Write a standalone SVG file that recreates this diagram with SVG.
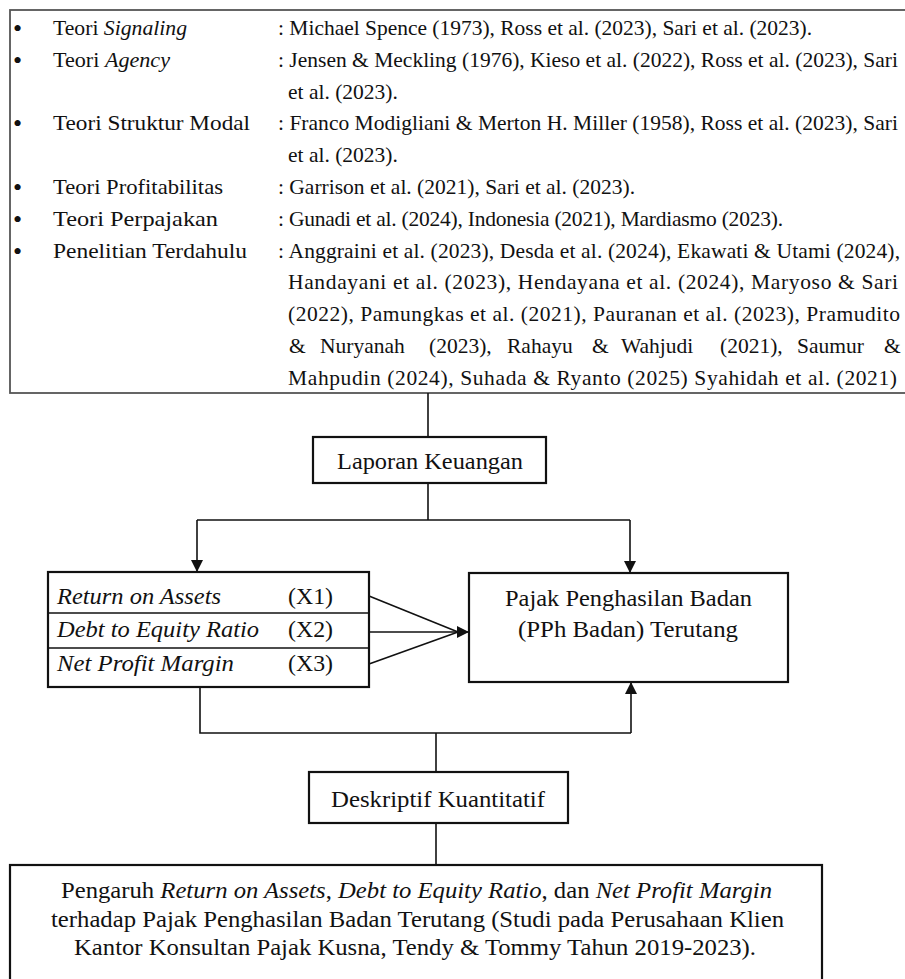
<svg xmlns="http://www.w3.org/2000/svg" width="905" height="979" viewBox="0 0 905 979">
<defs>
<style>
text{font-family:"Liberation Serif","Times New Roman",serif;fill:#111;}
.t{font-size:21.5px;}
.b{font-size:26px;}
.d{font-size:24px;}
.i{font-style:italic;}
.box{fill:#fff;stroke:#111;stroke-width:2.2;}
.con{fill:none;stroke:#111;stroke-width:1.6;}
</style>
<marker id="ah" viewBox="0 0 12 12" markerWidth="12" markerHeight="12" refX="12" refY="6" orient="auto" markerUnits="userSpaceOnUse">
<path d="M0,0 L12,6 L0,12 z" fill="#111"/>
</marker>
</defs>
<rect width="905" height="979" fill="#fff"/>

<g id="teori">
<rect x="10" y="10" width="910" height="383" fill="#fff" stroke="#555" stroke-width="1.8"/>
<g class="t">
<text class="b" x="13" y="37">•</text>
<text x="53" y="35" textLength="134" lengthAdjust="spacingAndGlyphs">Teori <tspan class="i">Signaling</tspan></text>
<text x="278" y="35" textLength="534" lengthAdjust="spacing">: Michael Spence (1973), Ross et al. (2023), Sari et al. (2023).</text>
<text class="b" x="13" y="68.8">•</text>
<text x="53" y="66.8" textLength="117" lengthAdjust="spacingAndGlyphs">Teori <tspan class="i">Agency</tspan></text>
<text x="278" y="66.8" textLength="620" lengthAdjust="spacing">: Jensen &amp; Meckling (1976), Kieso et al. (2022), Ross et al. (2023), Sari</text>
<text x="288" y="98.6">et al. (2023).</text>
<text class="b" x="13" y="132.4">•</text>
<text x="53" y="130.4" textLength="197" lengthAdjust="spacingAndGlyphs">Teori Struktur Modal</text>
<text x="278" y="130.4" textLength="620" lengthAdjust="spacing">: Franco Modigliani &amp; Merton H. Miller (1958), Ross et al. (2023), Sari</text>
<text x="288" y="162.2">et al. (2023).</text>
<text class="b" x="13" y="196">•</text>
<text x="53" y="194" textLength="170" lengthAdjust="spacingAndGlyphs">Teori Profitabilitas</text>
<text x="278" y="194" textLength="357" lengthAdjust="spacing">: Garrison et al. (2021), Sari et al. (2023).</text>
<text class="b" x="13" y="227.8">•</text>
<text x="53" y="225.8" textLength="165" lengthAdjust="spacingAndGlyphs">Teori Perpajakan</text>
<text x="278" y="225.8" textLength="505" lengthAdjust="spacing">: Gunadi et al. (2024), Indonesia (2021), Mardiasmo (2023).</text>
<text class="b" x="13" y="259.6">•</text>
<text x="53" y="257.6" textLength="194" lengthAdjust="spacingAndGlyphs">Penelitian Terdahulu</text>
<text x="278" y="257.6" textLength="622" lengthAdjust="spacing">: Anggraini et al. (2023), Desda et al. (2024), Ekawati &amp; Utami (2024),</text>
<text x="288" y="289.4" textLength="610" lengthAdjust="spacing">Handayani et al. (2023), Hendayana et al. (2024), Maryoso &amp; Sari</text>
<text x="288" y="321.2" textLength="612" lengthAdjust="spacing">(2022), Pamungkas et al. (2021), Pauranan et al. (2023), Pramudito</text>
<text y="353"><tspan x="289">&amp;</tspan><tspan x="320">Nuryanah</tspan><tspan x="429">(2023),</tspan><tspan x="507">Rahayu</tspan><tspan x="592">&amp;</tspan><tspan x="621">Wahjudi</tspan><tspan x="720">(2021),</tspan><tspan x="797">Saumur</tspan><tspan x="884">&amp;</tspan></text>
<text x="288" y="384.8" textLength="609" lengthAdjust="spacing">Mahpudin (2024), Suhada &amp; Ryanto (2025) Syahidah et al. (2021)</text>
</g>
</g>

<g id="connectors">
<line class="con" x1="428" y1="393" x2="428" y2="437"/>
<polyline class="con" points="428,483 428,520"/>
<polyline class="con" points="197,520 630,520"/>
<line class="con" x1="197" y1="520" x2="197" y2="572" marker-end="url(#ah)"/>
<line class="con" x1="630" y1="520" x2="630" y2="573" marker-end="url(#ah)"/>
<line class="con" x1="369" y1="596" x2="458" y2="632"/>
<line class="con" x1="369" y1="664" x2="458" y2="632"/>
<line class="con" x1="369" y1="632" x2="469" y2="632" marker-end="url(#ah)"/>
<polyline class="con" stroke-width="2" points="200,687 200,733 631,733"/>
<line class="con" stroke-width="2" x1="631" y1="733" x2="631" y2="682" marker-end="url(#ah)"/>
<line class="con" x1="436" y1="733" x2="436" y2="772"/>
<line class="con" x1="436" y1="823" x2="436" y2="865"/>
</g>

<g id="laporan">
<rect class="box" x="313" y="437" width="233" height="46"/>
<text class="d" x="337" y="469" textLength="186" lengthAdjust="spacingAndGlyphs">Laporan Keuangan</text>
</g>

<g id="variabel">
<rect class="box" x="48" y="572" width="321" height="115"/>
<line x1="48" y1="613" x2="369" y2="613" stroke="#111" stroke-width="1.4"/>
<line x1="48" y1="648" x2="369" y2="648" stroke="#111" stroke-width="1.4"/>
<text class="d i" x="57" y="604" textLength="164" lengthAdjust="spacingAndGlyphs">Return on Assets</text>
<text class="d" x="288" y="604" textLength="45" lengthAdjust="spacingAndGlyphs">(X1)</text>
<text class="d i" x="57" y="637" textLength="202" lengthAdjust="spacingAndGlyphs">Debt to Equity Ratio</text>
<text class="d" x="288" y="637" textLength="45" lengthAdjust="spacingAndGlyphs">(X2)</text>
<text class="d i" x="57" y="671" textLength="177" lengthAdjust="spacingAndGlyphs">Net Profit Margin</text>
<text class="d" x="288" y="671" textLength="45" lengthAdjust="spacingAndGlyphs">(X3)</text>
</g>

<g id="pph">
<rect class="box" x="469" y="573" width="319" height="109"/>
<text class="d" x="505" y="606" textLength="247" lengthAdjust="spacingAndGlyphs">Pajak Penghasilan Badan</text>
<text class="d" x="518" y="637" textLength="220" lengthAdjust="spacingAndGlyphs">(PPh Badan) Terutang</text>
</g>

<g id="deskriptif">
<rect class="box" x="309" y="772" width="259" height="51"/>
<text class="d" x="331" y="807" textLength="214" lengthAdjust="spacingAndGlyphs">Deskriptif Kuantitatif</text>
</g>

<g id="judul">
<rect class="box" x="10" y="865" width="812" height="140"/>
<text class="d" x="61" y="898" textLength="711" lengthAdjust="spacingAndGlyphs">Pengaruh <tspan class="i">Return on Assets</tspan>, <tspan class="i">Debt to Equity Ratio</tspan>, dan <tspan class="i">Net Profit Margin</tspan></text>
<text class="d" x="51" y="927" textLength="733" lengthAdjust="spacingAndGlyphs">terhadap Pajak Penghasilan Badan Terutang (Studi pada Perusahaan Klien</text>
<text class="d" x="74" y="955" textLength="682" lengthAdjust="spacingAndGlyphs">Kantor Konsultan Pajak Kusna, Tendy &amp; Tommy Tahun 2019-2023).</text>
</g>
</svg>
